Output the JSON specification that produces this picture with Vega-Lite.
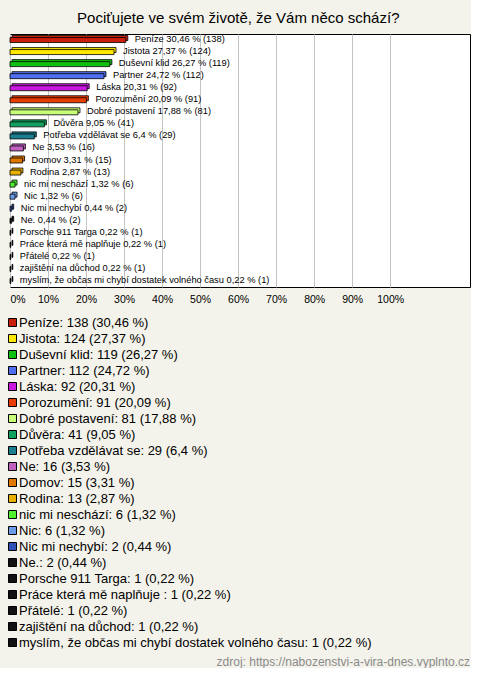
{
  "$schema": "https://vega.github.io/schema/vega-lite/v6.json",
  "background": "#f4f3eb",
  "padding": {"left": 6, "top": 10, "right": 0, "bottom": 0},
  "title": {"text": "Pociťujete ve svém životě, že Vám něco schází?", "fontSize": 15, "font": "Liberation Sans", "fontWeight": "normal", "color": "#000000", "anchor": "middle", "offset": 8},
  "config": {"view": {"stroke": null}, "font": "Liberation Sans"},
  "vconcat": [
    {
      "width": 460,
      "height": 253,
      "title": {"text": "zdroj: https://nabozenstvi-a-vira-dnes.vyplnto.cz", "orient": "bottom", "anchor": "end", "fontSize": 12, "fontWeight": "normal", "color": "#8a8a8a", "offset": 352, "font": "Liberation Sans"},
      "view": {"fill": "#ffffff", "stroke": "#000000", "strokeWidth": 1},
      "data": {
        "values": [
          {"name": "Peníze", "count": 138, "pct": 30.46, "label": "Peníze 30,46 % (138)", "legend": "Peníze: 138 (30,46 %)"},
          {"name": "Jistota", "count": 124, "pct": 27.37, "label": "Jistota 27,37 % (124)", "legend": "Jistota: 124 (27,37 %)"},
          {"name": "Duševní klid", "count": 119, "pct": 26.27, "label": "Duševní klid 26,27 % (119)", "legend": "Duševní klid: 119 (26,27 %)"},
          {"name": "Partner", "count": 112, "pct": 24.72, "label": "Partner 24,72 % (112)", "legend": "Partner: 112 (24,72 %)"},
          {"name": "Láska", "count": 92, "pct": 20.31, "label": "Láska 20,31 % (92)", "legend": "Láska: 92 (20,31 %)"},
          {"name": "Porozumění", "count": 91, "pct": 20.09, "label": "Porozumění 20,09 % (91)", "legend": "Porozumění: 91 (20,09 %)"},
          {"name": "Dobré postavení", "count": 81, "pct": 17.88, "label": "Dobré postavení 17,88 % (81)", "legend": "Dobré postavení: 81 (17,88 %)"},
          {"name": "Důvěra", "count": 41, "pct": 9.05, "label": "Důvěra 9,05 % (41)", "legend": "Důvěra: 41 (9,05 %)"},
          {"name": "Potřeba vzdělávat se", "count": 29, "pct": 6.4, "label": "Potřeba vzdělávat se 6,4 % (29)", "legend": "Potřeba vzdělávat se: 29 (6,4 %)"},
          {"name": "Ne", "count": 16, "pct": 3.53, "label": "Ne 3,53 % (16)", "legend": "Ne: 16 (3,53 %)"},
          {"name": "Domov", "count": 15, "pct": 3.31, "label": "Domov 3,31 % (15)", "legend": "Domov: 15 (3,31 %)"},
          {"name": "Rodina", "count": 13, "pct": 2.87, "label": "Rodina 2,87 % (13)", "legend": "Rodina: 13 (2,87 %)"},
          {"name": "nic mi neschází", "count": 6, "pct": 1.32, "label": "nic mi neschází 1,32 % (6)", "legend": "nic mi neschází: 6 (1,32 %)"},
          {"name": "Nic", "count": 6, "pct": 1.32, "label": "Nic 1,32 % (6)", "legend": "Nic: 6 (1,32 %)"},
          {"name": "Nic mi nechybí", "count": 2, "pct": 0.44, "label": "Nic mi nechybí 0,44 % (2)", "legend": "Nic mi nechybí: 2 (0,44 %)"},
          {"name": "Ne.", "count": 2, "pct": 0.44, "label": "Ne. 0,44 % (2)", "legend": "Ne.: 2 (0,44 %)"},
          {"name": "Porsche 911 Targa", "count": 1, "pct": 0.22, "label": "Porsche 911 Targa 0,22 % (1)", "legend": "Porsche 911 Targa: 1 (0,22 %)"},
          {"name": "Práce která mě naplňuje ", "count": 1, "pct": 0.22, "label": "Práce která mě naplňuje  0,22 % (1)", "legend": "Práce která mě naplňuje : 1 (0,22 %)"},
          {"name": "Přátelé", "count": 1, "pct": 0.22, "label": "Přátelé 0,22 % (1)", "legend": "Přátelé: 1 (0,22 %)"},
          {"name": "zajištění na důchod", "count": 1, "pct": 0.22, "label": "zajištění na důchod 0,22 % (1)", "legend": "zajištění na důchod: 1 (0,22 %)"},
          {"name": "myslím, že občas mi chybí dostatek volného času", "count": 1, "pct": 0.22, "label": "myslím, že občas mi chybí dostatek volného času 0,22 % (1)", "legend": "myslím, že občas mi chybí dostatek volného času: 1 (0,22 %)"}
        ]
      },
      "encoding": {
        "y": {"field": "name", "type": "nominal", "sort": null, "axis": null, "scale": {"paddingInner": 0, "paddingOuter": 0}}
      },
      "layer": [
        {
          "mark": {"type": "bar", "size": 5, "xOffset": 2, "yOffset": -2, "stroke": "#000000", "strokeWidth": 0.8, "opacity": 1},
          "encoding": {
            "x": {"field": "pct", "type": "quantitative", "scale": {"domain": [0, 121], "nice": false},
              "axis": {"values": [0, 10, 20, 30, 40, 50, 60, 70, 80, 90, 100], "labelExpr": "datum.value + '%'", "grid": true, "gridColor": "#c4c4c4", "gridWidth": 1, "domain": false, "ticks": false, "labelFontSize": 10.5, "labelColor": "#000000", "labelPadding": 7, "labelFlush": true, "title": null, "labelFont": "Liberation Sans"}},
            "color": {
              "field": "legend", "type": "nominal",
              "scale": {
                "domain": ["Peníze: 138 (30,46 %)", "Jistota: 124 (27,37 %)", "Duševní klid: 119 (26,27 %)", "Partner: 112 (24,72 %)", "Láska: 92 (20,31 %)", "Porozumění: 91 (20,09 %)", "Dobré postavení: 81 (17,88 %)", "Důvěra: 41 (9,05 %)", "Potřeba vzdělávat se: 29 (6,4 %)", "Ne: 16 (3,53 %)", "Domov: 15 (3,31 %)", "Rodina: 13 (2,87 %)", "nic mi neschází: 6 (1,32 %)", "Nic: 6 (1,32 %)", "Nic mi nechybí: 2 (0,44 %)", "Ne.: 2 (0,44 %)", "Porsche 911 Targa: 1 (0,22 %)", "Práce která mě naplňuje : 1 (0,22 %)", "Přátelé: 1 (0,22 %)", "zajištění na důchod: 1 (0,22 %)", "myslím, že občas mi chybí dostatek volného času: 1 (0,22 %)"],
                "range": ["#c81e0a", "#ffe800", "#10c010", "#4f6ff0", "#c818e0", "#e83c00", "#c8ff78", "#12a060", "#1a7e90", "#c060c0", "#e07800", "#e8b000", "#50f030", "#6a9ae8", "#3050b8", "#111111", "#111111", "#111111", "#111111", "#111111", "#111111"]
              },
              "legend": {"orient": "none", "legendX": -4, "legendY": 282, "title": null, "symbolType": "square", "symbolSize": 64, "symbolStrokeColor": "#000000", "symbolStrokeWidth": 1, "symbolOpacity": 1, "labelFontSize": 13, "labelFont": "Liberation Sans", "labelColor": "#000000", "labelLimit": 0, "labelOffset": 0, "rowPadding": 2, "padding": 0, "direction": "vertical", "columns": 1}
            }
          }
        },
        {
          "mark": {"type": "bar", "size": 5, "stroke": "#000000", "strokeWidth": 0.8, "opacity": 1},
          "encoding": {
            "x": {"field": "pct", "type": "quantitative"},
            "color": {"field": "legend", "type": "nominal"}
          }
        },
        {
          "mark": {"type": "text", "align": "left", "baseline": "middle", "dx": 9, "dy": -1, "fontSize": 9.3, "font": "Liberation Sans", "color": "#000000"},
          "encoding": {
            "x": {"field": "pct", "type": "quantitative"},
            "text": {"field": "label"}
          }
        }
      ]
    }
  ]
}
